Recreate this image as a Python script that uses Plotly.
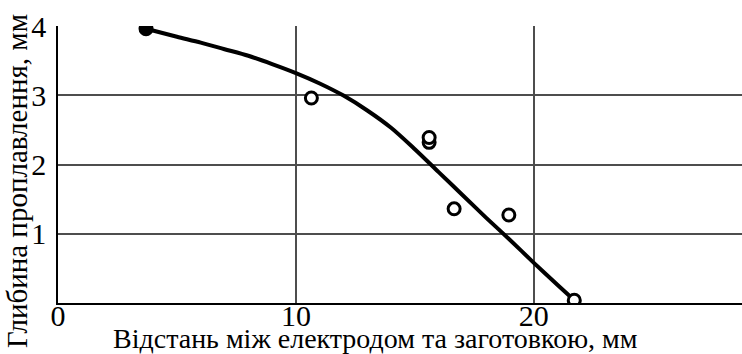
import plotly.graph_objects as go

# Measured points: distance between electrode and workpiece (mm) vs penetration depth (mm)
distance_mm = [3.7, 10.65, 15.6, 15.6, 16.65, 18.95, 21.7]
depth_mm = [3.96, 2.96, 2.32, 2.39, 1.36, 1.27, 0.04]
marker_fill = ["black", "white", "white", "white", "white", "white", "white"]

# Approximating curve through the measurements
curve_x = [3.7, 5, 6, 7, 8, 9, 10, 11, 12, 13, 14, 15, 16, 17, 18, 19, 20, 21, 21.7]
curve_y = [3.96, 3.845, 3.76, 3.665, 3.57, 3.45, 3.32, 3.17, 2.995, 2.78, 2.53,
           2.22, 1.89, 1.56, 1.23, 0.91, 0.58, 0.26, 0.04]

x_ticks = [0, 10, 20]
y_ticks = [1, 2, 3, 4]

serif = "Liberation Serif"

fig = go.Figure()
fig.add_trace(go.Scatter(
    x=curve_x, y=curve_y, mode="lines",
    line=dict(color="black", width=4, shape="spline", smoothing=0.8),
    hoverinfo="skip", showlegend=False,
))
fig.add_trace(go.Scatter(
    x=distance_mm, y=depth_mm, mode="markers",
    marker=dict(symbol="circle", size=12, color=marker_fill,
                line=dict(color="black", width=3)),
    showlegend=False,
))

fig.update_layout(
    width=742, height=354,
    margin=dict(l=58, r=0, t=26, b=51),
    paper_bgcolor="white", plot_bgcolor="white",
    font=dict(family=serif, size=28, color="black"),
    xaxis=dict(
        range=[0, 28.75], tickvals=x_ticks, ticktext=[str(v) for v in x_ticks],
        showgrid=True, gridcolor="#4d4d4d", gridwidth=1.5,
        showline=True, linecolor="black", linewidth=1.5,
        zeroline=False, ticks="", ticklen=0, ticklabelstandoff=-15,
        tickfont=dict(family=serif, size=30),
    ),
    yaxis=dict(
        range=[0, 4], tickvals=y_ticks, ticktext=[str(v) for v in y_ticks],
        showgrid=True, gridcolor="#4d4d4d", gridwidth=1.5,
        showline=True, linecolor="black", linewidth=1.5,
        zeroline=False, ticks="", ticklen=0, ticklabelstandoff=4,
        tickfont=dict(family=serif, size=30),
    ),
    annotations=[
        dict(text="Відстань між електродом та заготовкою, мм",
             xref="paper", yref="paper", x=(375 - 58) / 684, y=0,
             xanchor="center", yanchor="middle", yshift=-35, showarrow=False,
             font=dict(family=serif, size=28)),
        dict(text="Глибина проплавлення, мм",
             xref="paper", yref="paper", x=0, y=0.44,
             xanchor="center", yanchor="middle", xshift=-41, textangle=-90,
             showarrow=False, font=dict(family=serif, size=29)),
    ],
)

fig.write_html("out.html")
